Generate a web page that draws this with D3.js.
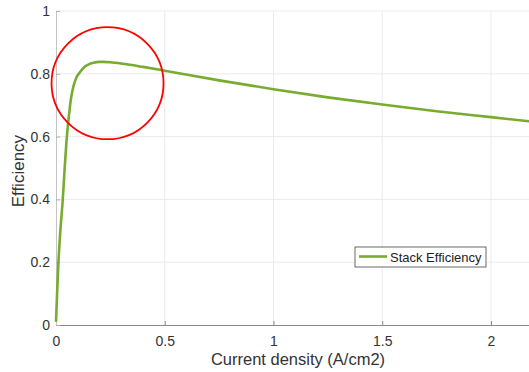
<!DOCTYPE html>
<html>
<head>
<meta charset="utf-8">
<script src="https://cdn.jsdelivr.net/npm/d3@7"></script>
<style>
  body { margin: 0; background: #fff; }
  svg { display: block; font-family: "Liberation Sans", Arial, sans-serif; }
</style>
</head>
<body>
<svg id="chart"></svg>
<script>
// current density (A/cm2) and stack efficiency
var density = [0, 0.005, 0.011, 0.02, 0.031, 0.04, 0.05, 0.06, 0.068, 0.08, 0.095, 0.11, 0.133, 0.15, 0.172, 0.2, 0.217, 0.25, 0.31, 0.4, 0.5, 0.75, 1, 1.25, 1.5, 1.75, 2, 2.2]
var efficiency = [0.01, 0.1, 0.197, 0.3, 0.398, 0.5, 0.6, 0.67, 0.717, 0.76, 0.79, 0.805, 0.823, 0.83, 0.835, 0.838, 0.838, 0.837, 0.832, 0.822, 0.81, 0.779, 0.751, 0.725, 0.702, 0.681, 0.662, 0.647]
var xTicks = [0, 0.5, 1, 1.5, 2]
var yTicks = [0, 0.2, 0.4, 0.6, 0.8, 1]
var seriesName = "Stack Efficiency"
// highlighted region (peak)
var markCenter = { x: 0.237, y: 0.77 }

var dimensions = {
  width: 529,
  height: 372,
  margin: { top: 11, right: 0, bottom: 47, left: 56 }
}
dimensions.boundedHeight = dimensions.height - dimensions.margin.top - dimensions.margin.bottom

var data = density.map(function (d, i) { return { x: d, y: efficiency[i] } })

var svg = d3.select("#chart")
  .attr("width", dimensions.width)
  .attr("height", dimensions.height)

var xScale = d3.scaleLinear()
  .domain([0, 2.175])
  .range([dimensions.margin.left, dimensions.width])

var yScale = d3.scaleLinear()
  .domain([0, 1])
  .range([dimensions.margin.top + dimensions.boundedHeight, dimensions.margin.top])

// grid
svg.append("g").selectAll("line").data(xTicks.slice(1)).enter().append("line")
  .attr("x1", d => xScale(d)).attr("x2", d => xScale(d))
  .attr("y1", yScale(0)).attr("y2", yScale(1))
  .attr("stroke", "#ebebeb")
svg.append("g").selectAll("line").data(yTicks.slice(1)).enter().append("line")
  .attr("x1", xScale(0)).attr("x2", dimensions.width)
  .attr("y1", d => yScale(d)).attr("y2", d => yScale(d))
  .attr("stroke", "#ebebeb")

// axes
var xAxis = d3.axisBottom(xScale).tickValues(xTicks).tickSizeInner(-4).tickSizeOuter(0).tickPadding(11)
  .tickFormat(d3.format("~g"))
var gx = svg.append("g")
  .attr("transform", "translate(0," + yScale(0) + ")")
  .call(xAxis)
gx.select(".domain").attr("stroke", "#8a8a8a")
gx.selectAll(".tick line").attr("stroke", "#8a8a8a")
gx.selectAll("text").attr("font-size", 14).attr("fill", "#333")

var yAxis = d3.axisLeft(yScale).tickValues(yTicks).tickSizeInner(-4).tickSizeOuter(0).tickPadding(6)
  .tickFormat(d3.format("~g"))
var gy = svg.append("g")
  .attr("transform", "translate(" + xScale(0) + ",0)")
  .call(yAxis)
gy.select(".domain").attr("stroke", "#c4c4c4")
gy.selectAll(".tick line").attr("stroke", "#b0b0b0")
gy.selectAll("text").attr("font-size", 14).attr("fill", "#333")

// axis labels
svg.append("text")
  .attr("x", 298).attr("y", 365)
  .attr("text-anchor", "middle")
  .attr("font-size", 16.5).attr("fill", "#333")
  .text("Current density (A/cm2)")
svg.append("text")
  .attr("transform", "translate(24," + yScale(0.49) + ") rotate(-90)")
  .attr("text-anchor", "middle")
  .attr("font-size", 17).attr("fill", "#333")
  .text("Efficiency")

// line
var line = d3.line()
  .x(d => xScale(d.x))
  .y(d => yScale(d.y))
  .curve(d3.curveMonotoneX)

svg.append("path")
  .datum(data)
  .attr("d", line)
  .attr("fill", "none")
  .attr("stroke", "#77ac30")
  .attr("stroke-width", 2.6)

// legend
var legend = svg.append("g").attr("transform", "translate(355,247)")
legend.append("rect")
  .attr("width", 131).attr("height", 20)
  .attr("fill", "#fff").attr("stroke", "#444").attr("stroke-width", 0.8)
legend.append("line")
  .attr("x1", 4).attr("x2", 32).attr("y1", 9.5).attr("y2", 9.5)
  .attr("stroke", "#77ac30").attr("stroke-width", 2.6)
legend.append("text")
  .attr("x", 35).attr("y", 14.5)
  .attr("font-size", 13).attr("fill", "#222")
  .text(seriesName)

// red highlight circle
svg.append("circle")
  .attr("cx", xScale(markCenter.x)).attr("cy", yScale(markCenter.y))
  .attr("r", 56)
  .attr("fill", "none").attr("stroke", "#f00").attr("stroke-width", 1.8)
</script>
</body>
</html>
